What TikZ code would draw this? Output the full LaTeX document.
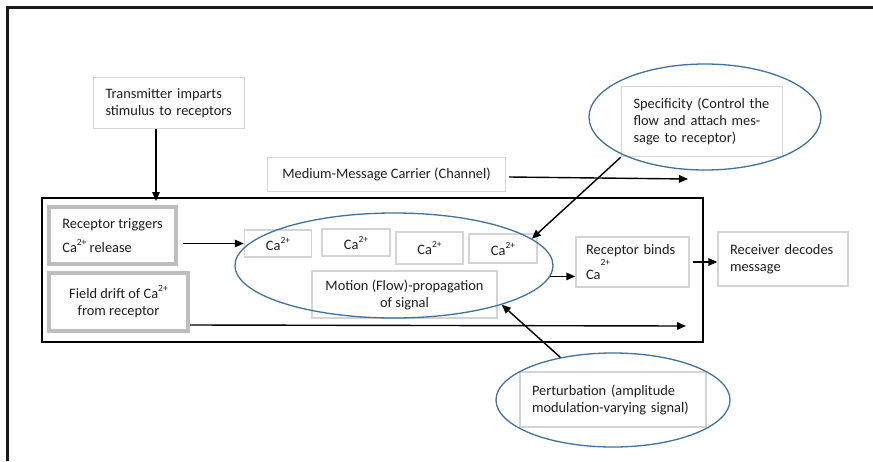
\documentclass[tikz,border=0pt]{standalone}
\usepackage{fontspec}
\setmainfont{Carlito}
\usetikzlibrary{arrows.meta,shapes.geometric}

\definecolor{boxgray}{RGB}{212,212,212}
\definecolor{thickgray}{RGB}{190,190,190}
\definecolor{ringblue}{RGB}{65,113,156}
\definecolor{ink}{RGB}{30,30,30}

% raised charge label after an ion symbol
\newcommand\ionchg[1]{\raisebox{7pt}{\fontsize{9.5}{9.5}\selectfont #1}}

\begin{document}
\begin{tikzpicture}[x=1pt,y=-1pt,
  font=\fontsize{14.4}{17}\selectfont, text=ink,
  lbox/.style={draw=boxgray, line width=1.4pt, rectangle, fill=white,
    inner ysep=0pt, inner xsep=0pt},
  tbox/.style={draw=thickgray, line width=4pt, rectangle, fill=white,
    inner sep=0pt, align=left},
  ring/.style={draw=ringblue, line width=1.3pt, ellipse, inner sep=0pt},
  arr/.style={draw=black, line width=1.4pt,
    -{Triangle[length=9pt,width=7.5pt]}}
]
\useasboundingbox (0,0) rectangle (873,461);
\fill[white] (0,0) rectangle (873,461);

% page frame (top and left edges)
\draw[line width=3pt, black!90] (7.5,461) -- (7.5,7.5) -- (873,7.5);

% outer receptor field
\node[draw=black, line width=1.2pt, rectangle, inner sep=0pt,
  minimum width=661pt, minimum height=144pt] (field) at (372.5,270) {};

% source and channel
\node[lbox, minimum width=151pt, minimum height=51pt, text width=127pt,
  inner xsep=12pt, align=left] (trans) at (169,103)
  {\mbox{Transmitter imparts}\\\mbox{stimulus to receptors}};
\node[lbox, minimum width=238pt, minimum height=34pt, align=center]
  (med) at (386.5,174.5) {Medium-Message Carrier (Channel)};
\node[lbox, minimum width=161pt, minimum height=70pt, text width=137pt,
  inner xsep=12pt, align=left] (spec) at (702,121.5)
  {\mbox{Specificity (Control the}\\\mbox{flow and attach mes-}\\\mbox{sage to receptor)}};

% receptor side
\node[tbox, minimum width=127pt, minimum height=57pt] (trig) at (112.5,235.5)
  {Receptor triggers\\[7pt]Ca\ionchg{2+} release};
\node[tbox, minimum width=139pt, minimum height=58pt, align=center]
  (drift) at (118.5,302) {Field drift of Ca\ionchg{2+}\\from receptor};

% calcium ions in flow
\node[lbox, minimum width=67pt, minimum height=27pt] (ca1) at (278,243.5) {Ca\ionchg{2+}};
\node[lbox, minimum width=68pt, minimum height=27pt] (ca2) at (356,242.5) {Ca\ionchg{2+}};
\node[lbox, minimum width=67pt, minimum height=32pt] (ca3) at (429.5,248) {Ca\ionchg{2+}};
\node[lbox, minimum width=68pt, minimum height=29pt] (ca4) at (503,248.5) {Ca\ionchg{2+}};
\node[lbox, minimum width=185pt, minimum height=47pt, align=center]
  (motion) at (404.5,294.5) {Motion (Flow)-propagation\\of signal};

% binding and decoding
\node[lbox, minimum width=113pt, minimum height=50pt, text width=93pt,
  inner xsep=10pt, align=left] (binds) at (632.5,262)
  {\mbox{Receptor binds}\\[8pt]Ca\smash{\raisebox{14pt}{\fontsize{9.5}{9.5}\selectfont 2+}}};
\node[lbox, minimum width=130pt, minimum height=54pt, text width=106pt,
  inner xsep=12pt, align=left] (recv) at (783,259)
  {\mbox{Receiver decodes}\\message};

% perturbation
\node[lbox, minimum width=186pt, minimum height=55pt, text width=162pt,
  inner xsep=12pt, align=left] (pert) at (613,399.5)
  {\mbox{Perturbation (amplitude}\\\mbox{modulation-varying signal)}};

% enclosing ellipses
\node[ring, minimum width=232pt, minimum height=106pt] (specring) at (705,117) {};
\node[ring, minimum width=318pt, minimum height=105pt] (flow) at (394,265.5) {};
\node[ring, minimum width=234pt, minimum height=94pt] (pertring) at (613,400) {};

% free arrow ends
\coordinate (fieldtop) at (156,201);
\coordinate (chanend) at (688,179);
\coordinate (driftend) at (686,326);

% connectors
\draw[arr] (trans.south -| fieldtop) -- (fieldtop);
\draw[arr] ([shift={(3,2.5)}]med.east) -- (chanend);
\draw[arr] (spec.south west) -- (flow.11);
\draw[arr] ([xshift=5pt]trig.east |- ca1.west) -- (ca1.west);
\draw[arr] ([shift={(0,-8)}]drift.south east) -- (driftend);
\draw[arr] (flow.-4) -- (flow.-4 -| binds.west);
\draw[arr] ([xshift=3pt]binds.east) -- (binds.east -| recv.west);
\draw[arr] (pertring.141) -- (flow.-20);
\end{tikzpicture}
\end{document}
